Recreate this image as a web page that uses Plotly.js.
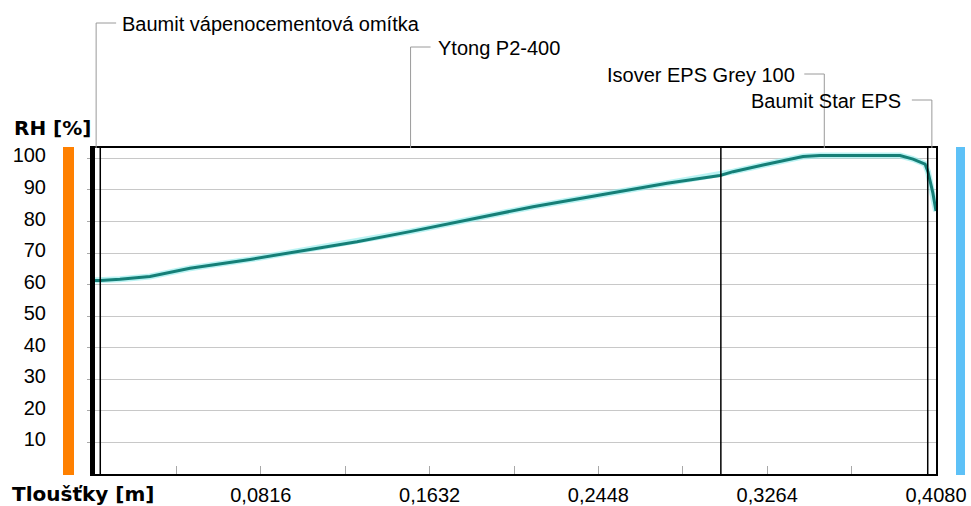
<!DOCTYPE html>
<html>
<head>
<meta charset="utf-8">
<script src="https://cdn.plot.ly/plotly-3.0.1.min.js"></script>
<style>html,body{margin:0;padding:0;background:#fff;}#chart{width:971px;height:506px;}</style>
</head>
<body>
<div id="chart"></div>
<script>
// ---- data ----
const layerNames = ['Baumit vápenocementová omítka', 'Ytong P2-400', 'Isover EPS Grey 100', 'Baumit Star EPS'];
const layerThickness = [0.004, 0.300, 0.100, 0.004];
const thicknessM = [0, 0.004, 0.0135, 0.028, 0.0474, 0.0764, 0.1039, 0.1281, 0.1537, 0.1813, 0.2132, 0.2456, 0.278, 0.3036, 0.3099, 0.3244, 0.336, 0.3437, 0.352, 0.3713, 0.3906, 0.3969, 0.4027, 0.4041, 0.4065, 0.408];
const rhPercent = [61.3, 61.3, 61.7, 62.6, 65.2, 68.0, 71.0, 73.6, 76.8, 80.5, 84.7, 88.4, 92.1, 94.6, 95.8, 97.9, 99.5, 100.6, 100.9, 100.9, 100.9, 99.8, 98.2, 95.8, 89.0, 83.3];
const xTickVals = [0.0816, 0.1632, 0.2448, 0.3264, 0.4080];
const xTickLabels = ['0,0816', '0,1632', '0,2448', '0,3264', '0,4080'];
const xMinorTickVals = [0.0408, 0.1224, 0.2040, 0.2856, 0.3672];
const yTickVals = [10, 20, 30, 40, 50, 60, 70, 80, 90, 100];
const yTickLabels = ['10', '20', '30', '40', '50', '60', '70', '80', '90', '100'];
const yAxisTitle = 'RH [%]';
const xAxisTitle = 'Tloušťky [m]';

// ---- layout geometry ----
const W = 971, H = 506;
const M = {l: 92, r: 35, t: 148, b: 32};
const plotW = W - M.l - M.r, plotH = H - M.t - M.b;
const total = layerThickness.reduce((a, b) => a + b, 0);
const xRange = [0, total];
const pxPerX = plotW / (xRange[1] - xRange[0]);
const py = p => (H - M.b - p) / plotH;      // pixel y -> paper y
const pxp = p => (p - M.l) / plotW;          // pixel x -> paper x

const labelY = [23, 47, 74, 100];
const labelSide = ['right', 'right', 'left', 'left'];
const gapPx = [24, 25, 27, 29];
const segPx = 20;

const shapes = [];
const annotations = [];
// layer boundaries
let acc = 0;
const mids = [];
layerThickness.forEach((t, i) => {
  mids.push(acc + t / 2);
  acc += t;
  if (i < layerThickness.length - 1) {
    shapes.push({type: 'line', xref: 'x', yref: 'paper', x0: acc, x1: acc, y0: 0, y1: 1,
      line: {color: '#000', width: 1.5}});
  }
});
// leaders + labels
layerNames.forEach((name, i) => {
  const m = mids[i];
  const yP = py(labelY[i]);
  const dir = labelSide[i] === 'right' ? 1 : -1;
  shapes.push({type: 'line', xref: 'x', yref: 'paper', x0: m, x1: m, y0: 1, y1: yP,
    line: {color: '#9a9a9a', width: 1}});
  shapes.push({type: 'line', xref: 'x', yref: 'paper', x0: m, x1: m + dir * segPx / pxPerX, y0: yP, y1: yP,
    line: {color: '#9a9a9a', width: 1}});
  annotations.push({xref: 'x', yref: 'paper', x: m, y: yP, xshift: dir * gapPx[i], yshift: -1,
    xanchor: dir > 0 ? 'left' : 'right', yanchor: 'middle', showarrow: false, text: name,
    font: {family: 'Liberation Sans, Arial, sans-serif', size: 20, color: '#000'}});
});
// side colour bars
shapes.push({type: 'rect', xref: 'paper', yref: 'paper', x0: pxp(63), x1: pxp(74), y0: py(475), y1: py(147),
  fillcolor: '#FF8000', line: {width: 0}});
shapes.push({type: 'rect', xref: 'paper', yref: 'paper', x0: pxp(956), x1: pxp(965), y0: py(475), y1: py(147),
  fillcolor: '#5DC1F7', line: {width: 0}});
// thicker left border
shapes.push({type: 'line', xref: 'paper', yref: 'paper', x0: pxp(93.5), x1: pxp(93.5), y0: 0, y1: 1,
  line: {color: '#000', width: 3}});

annotations.push({xref: 'paper', yref: 'paper', x: pxp(12), y: py(128), xanchor: 'left', yanchor: 'middle',
  showarrow: false, text: '<b>' + yAxisTitle + '</b>',
  font: {family: 'DejaVu Sans, sans-serif', size: 20, color: '#000'}});
annotations.push({xref: 'paper', yref: 'paper', x: pxp(10), y: py(494), xanchor: 'left', yanchor: 'middle',
  showarrow: false, text: '<b>' + xAxisTitle + '</b>',
  font: {family: 'DejaVu Sans, sans-serif', size: 20, color: '#000'}});

const traces = [
  {x: thicknessM, y: rhPercent, type: 'scatter', mode: 'lines', hoverinfo: 'skip',
    line: {color: 'rgba(140,235,235,0.6)', width: 6}},
  {x: thicknessM, y: rhPercent, type: 'scatter', mode: 'lines',
    line: {color: '#157F77', width: 3}}
];

const tickFont = {family: 'Liberation Sans, Arial, sans-serif', size: 20, color: '#000'};
const layout = {
  width: W, height: H,
  margin: {l: M.l, r: M.r, t: M.t, b: M.b, pad: 0},
  paper_bgcolor: '#fff', plot_bgcolor: '#fff',
  showlegend: false,
  xaxis: {
    range: xRange, showgrid: false, zeroline: false,
    showline: true, mirror: true, linecolor: '#000', linewidth: 2,
    tickmode: 'array', tickvals: xTickVals, ticktext: xTickLabels,
    ticks: 'inside', ticklen: 8, tickcolor: '#a8a8a8', tickwidth: 1,
    minor: {tickmode: 'array', tickvals: xMinorTickVals, ticks: 'inside', ticklen: 8, tickcolor: '#a8a8a8', showgrid: false},
    tickfont: tickFont, ticklabelstandoff: 2
  },
  yaxis: {
    range: [0, 103.3], zeroline: false,
    showline: true, mirror: true, linecolor: '#000', linewidth: 2,
    showgrid: true, gridcolor: '#c8c8c8', gridwidth: 1,
    tickmode: 'array', tickvals: yTickVals, ticktext: yTickLabels,
    ticks: 'outside', ticklen: 3, tickcolor: '#aaaaaa',
    tickfont: tickFont, ticklabelstandoff: 37, ticklabelshift: -3
  },
  shapes: shapes,
  annotations: annotations
};

Plotly.newPlot('chart', traces, layout, {displayModeBar: false, staticPlot: true});
</script>
</body>
</html>
